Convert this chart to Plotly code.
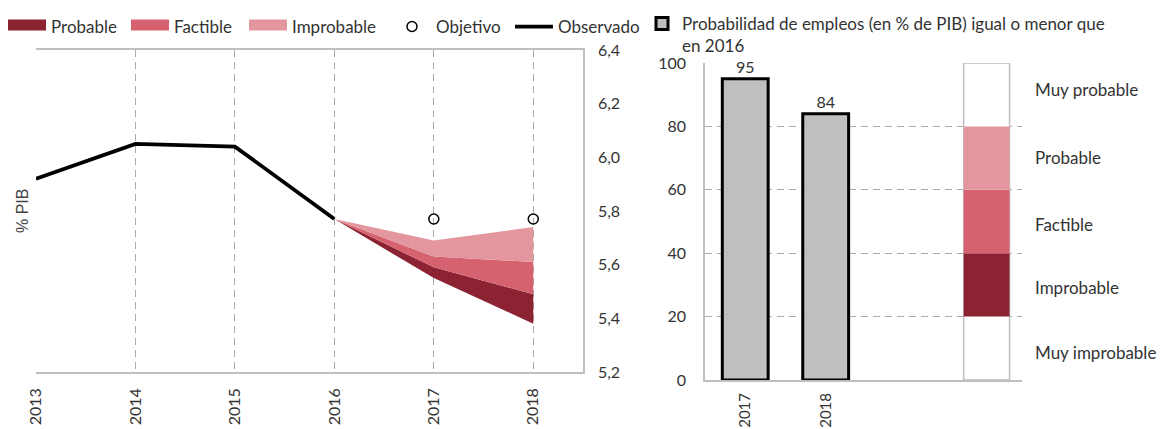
import plotly.graph_objects as go

# ---- data ----
years_obs = [2013, 2014, 2015, 2016]
observado = [5.92, 6.05, 6.04, 5.77]
years_obj = [2017, 2018]
objetivo = [5.77, 5.77]
years_band = [2016, 2017, 2018]
band_lower = [5.77, 5.55, 5.38]
band_probable = [5.77, 5.59, 5.49]
band_factible = [5.77, 5.63, 5.61]
band_improbable = [5.77, 5.69, 5.74]
x_ticks_left = [2013, 2014, 2015, 2016, 2017, 2018]

bar_years = ["2017", "2018"]
bar_pos = [0, 1]
bar_vals = [95, 84]
scale_pos = [3]
scale_bases = [20, 40, 60]
scale_sizes = [20, 20, 20]
scale_labels = ["Muy improbable", "Improbable", "Factible", "Probable", "Muy probable"]
scale_label_vals = [8.5, 29, 49, 70, 91.5]

DARK = "#8B2333"
MID = "#D6626F"
LIGHT = "#E3969E"
GRID = "#ABABAB"
AXIS = "#BFBFBF"
TXT = "#333333"
FONT = "Lato"

fig = go.Figure()

# bands (chart)
fig.add_trace(go.Scatter(x=years_band, y=band_lower, mode="lines", line=dict(width=0, color=DARK),
                         showlegend=False, hoverinfo="skip", xaxis="x", yaxis="y"))
for vals, col in zip([band_probable, band_factible, band_improbable], [DARK, MID, LIGHT]):
    fig.add_trace(go.Scatter(x=years_band, y=vals, mode="lines", line=dict(width=0, color=col),
                             fill="tonexty", fillcolor=col, showlegend=False,
                             xaxis="x", yaxis="y"))
# band legend swatches
for name, col, leg in zip(["Probable", "Factible", "Improbable"], [DARK, MID, LIGHT],
                          ["legend", "legend2", "legend3"]):
    fig.add_trace(go.Scatter(x=[None], y=[None], mode="lines", line=dict(width=10, color=col),
                             fill="toself", fillcolor=col, name=name, legend=leg,
                             xaxis="x", yaxis="y"))
# observed
fig.add_trace(go.Scatter(x=years_obs, y=observado, mode="lines", line=dict(width=3.8, color="#000000"),
                         name="Observado", legend="legend5", xaxis="x", yaxis="y"))
# objective
fig.add_trace(go.Scatter(x=years_obj, y=objetivo, mode="markers",
                         marker=dict(symbol="circle-open", size=10, color="#000000", line=dict(width=1.5)),
                         name="Objetivo", legend="legend4", xaxis="x", yaxis="y", cliponaxis=False))

# right chart
fig.add_trace(go.Bar(x=bar_pos, y=bar_vals, width=0.57,
                     marker=dict(color="#BFBFBF", line=dict(color="#000000", width=3)),
                     text=bar_vals, textposition="outside", textfont=dict(size=16, color=TXT, family=FONT),
                     cliponaxis=False,
                     name="Probabilidad de empleos (en % de PIB) igual o menor que<br>en 2016",
                     legend="legend6", xaxis="x2", yaxis="y2"))
fig.add_trace(go.Bar(x=scale_pos, y=[100], width=0.57,
                     marker=dict(color="#FFFFFF", line=dict(color=AXIS, width=1.5)),
                     showlegend=False, hoverinfo="skip", xaxis="x2", yaxis="y2"))
for base, size, col in zip(scale_bases, scale_sizes, [DARK, MID, LIGHT]):
    fig.add_trace(go.Bar(x=scale_pos, y=[size], base=[base], width=0.57,
                         marker=dict(color=col, line=dict(width=0)),
                         showlegend=False, hoverinfo="skip", xaxis="x2", yaxis="y2"))
# invisible trace for label axis
fig.add_trace(go.Scatter(x=scale_pos, y=scale_label_vals[:1], mode="markers", marker=dict(opacity=0),
                         showlegend=False, hoverinfo="skip", xaxis="x2", yaxis="y3"))

W, H = 1160, 429

def px_x(a, b):
    return [a / W, b / W]

def px_y(top, bottom):
    return [1 - bottom / H, 1 - top / H]

fig.update_layout(
    width=W, height=H,
    margin=dict(l=0, r=0, t=0, b=0),
    paper_bgcolor="white", plot_bgcolor="white",
    separators=",.",
    barmode="overlay",
    font=dict(family=FONT, size=16, color=TXT),
    xaxis=dict(domain=px_x(36, 583), range=[2013, 2018.5], tickvals=x_ticks_left, tickangle=-90,
               showgrid=True, gridcolor=GRID, griddash="7px,5px", gridwidth=1,
               showline=True, linecolor=AXIS, linewidth=1.5, mirror=True, zeroline=False,
               ticks="", ticklabelstandoff=8, anchor="y", automargin=False,
               tickfont=dict(size=16, color=TXT)),
    yaxis=dict(domain=px_y(50, 372), range=[5.2, 6.4], dtick=0.2, tickformat=".1f", side="right",
               showgrid=False, zeroline=False, showline=True, linecolor=AXIS, linewidth=1.5, mirror=False,
               ticks="", ticklabelstandoff=10, anchor="x", automargin=False,
               tickfont=dict(size=16, color=TXT)),
    xaxis2=dict(domain=px_x(705, 1022), range=[-0.5, 3.44], tickvals=bar_pos, ticktext=bar_years, tickangle=-90,
                showgrid=False, showline=True, linecolor=AXIS, linewidth=2, zeroline=False, ticks="",
                ticklabelstandoff=5, anchor="y2", automargin=False, tickfont=dict(size=15, color=TXT)),
    yaxis2=dict(domain=px_y(63, 380), range=[0, 100], dtick=20, showgrid=True, gridcolor=GRID,
                griddash="7px,5px", gridwidth=1, showline=True, linecolor=AXIS, linewidth=1.5,
                zeroline=False, ticks="", ticklabelstandoff=14, anchor="x2", automargin=False,
                tickfont=dict(size=16, color=TXT)),
    yaxis3=dict(domain=px_y(63, 380), range=[0, 100], overlaying="y2", side="right", anchor="x2",
                tickvals=scale_label_vals, ticktext=scale_labels, showgrid=False, showline=False,
                zeroline=False, ticks="", ticklabelstandoff=12, automargin=False,
                tickfont=dict(size=17, color=TXT)),
    annotations=[dict(text="% PIB", x=22 / W, y=1 - 211 / H, xref="paper", yref="paper",
                      textangle=-90, showarrow=False, xanchor="center", yanchor="middle",
                      font=dict(family="Liberation Sans", size=16, color="#444444"))],
)

leg_common = dict(orientation="h", yanchor="middle", y=1 - 27 / H, xanchor="left", bgcolor="rgba(0,0,0,0)",
                  font=dict(size=17, color=TXT, family=FONT), borderwidth=0, itemwidth=38)
fig.update_layout(
    legend=dict(leg_common, x=3 / W),
    legend2=dict(leg_common, x=126 / W),
    legend3=dict(leg_common, x=244 / W),
    legend4=dict(leg_common, x=388 / W),
    legend5=dict(leg_common, x=510 / W),
    legend6=dict(leg_common, x=642 / W, y=1 - 6 / H, yanchor="top", valign="top", itemwidth=30),
)

fig.write_html("out.html", config={"displayModeBar": False},
               post_script="document.body.style.margin='0';document.body.style.overflow='hidden';")
